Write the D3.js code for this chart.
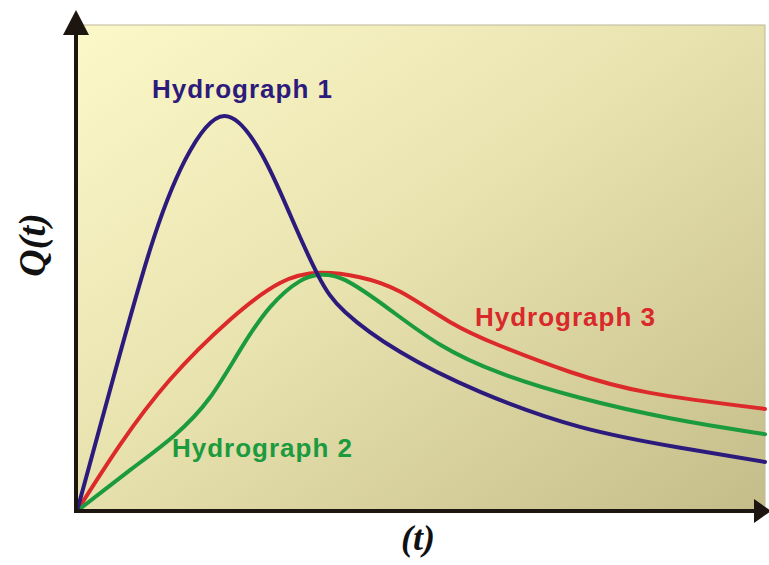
<!DOCTYPE html>
<html>
<head>
<meta charset="utf-8">
<script src="https://cdn.jsdelivr.net/npm/d3@7"></script>
<style>
  body { margin: 0; background: #fff; }
</style>
</head>
<body>
<div id="chart"></div>
<script>
// curve values (t and Q in 0..100 units)
const blueT = [0, 4.8, 10.6, 15.7, 21.4, 26.9, 31.0, 35.0, 39.0, 47.0, 58.6, 73.1, 87.7, 100];
const blueQ = [0, 24.9, 53.7, 72.2, 81.3, 73.3, 60.9, 48.6, 40.9, 32.7, 24.5, 17.3, 13.0, 10.1];

const redT = [0, 6.25, 13.5, 22.2, 29.5, 35.3, 41.1, 47.0, 54.2, 61.5, 71.7, 83.3, 100];
const redQ = [0, 13.6, 27.0, 39.3, 46.9, 49.0, 48.1, 45.1, 38.9, 34.0, 28.6, 24.3, 21.0];

const greenT = [0, 7.7, 14.2, 19.3, 23.7, 28.1, 32.4, 35.3, 39.0, 45.5, 52.8, 61.5, 73.1, 86.2, 100];
const greenQ = [0, 8.4, 15.6, 23.3, 33.1, 42.0, 47.3, 48.6, 47.5, 41.4, 34.2, 28.4, 23.3, 19.1, 15.8];

const seriesNames = ["Hydrograph 1", "Hydrograph 2", "Hydrograph 3"];

const width = 769;
const height = 565;

const x = d3.scaleLinear().domain([0, 100]).range([77, 765]);
const y = d3.scaleLinear().domain([0, 100]).range([511, 25]);

const svg = d3.select("#chart")
  .append("svg")
  .attr("width", width)
  .attr("height", height);

const defs = svg.append("defs");
const grad = defs.append("linearGradient")
  .attr("id", "bg")
  .attr("x1", "0%").attr("y1", "0%")
  .attr("x2", "100%").attr("y2", "100%");
grad.append("stop").attr("offset", "0%").attr("stop-color", "#fcf8c8");
grad.append("stop").attr("offset", "45%").attr("stop-color", "#e9e3b0");
grad.append("stop").attr("offset", "100%").attr("stop-color", "#c4bd8a");

// plot background
svg.append("rect")
  .attr("x", x(0))
  .attr("y", y(100))
  .attr("width", x(100) - x(0))
  .attr("height", y(0) - y(100))
  .attr("fill", "url(#bg)")
  .attr("stroke", "#bdb89a")
  .attr("stroke-width", 1);

const line = d3.line()
  .x(d => x(d[0]))
  .y(d => y(d[1]))
  .curve(d3.curveNatural);

const series = [
  { t: redT, q: redQ, color: "#dc2a2a" },
  { t: greenT, q: greenQ, color: "#1b9a3e" },
  { t: blueT, q: blueQ, color: "#2c1b7c" }
];

series.forEach(s => {
  svg.append("path")
    .datum(d3.zip(s.t, s.q))
    .attr("d", line)
    .attr("fill", "none")
    .attr("stroke", s.color)
    .attr("stroke-width", 4)
    .attr("stroke-linecap", "round");
});

// axes with arrowheads
const axisColor = "#1c1510";
svg.append("line")
  .attr("x1", 76).attr("y1", 513)
  .attr("x2", 76).attr("y2", 30)
  .attr("stroke", axisColor).attr("stroke-width", 4);
svg.append("path")
  .attr("d", "M76,10 L63,35 L89,35 Z")
  .attr("fill", axisColor);

svg.append("line")
  .attr("x1", 74).attr("y1", 511)
  .attr("x2", 758).attr("y2", 511)
  .attr("stroke", axisColor).attr("stroke-width", 4);
svg.append("path")
  .attr("d", "M771,511 L754,499 L754,523 Z")
  .attr("fill", axisColor);

// curve labels
const labels = [
  { text: seriesNames[0], x: 152, y: 98, color: "#2c1b7c" },
  { text: seriesNames[1], x: 172, y: 457, color: "#1b9a3e" },
  { text: seriesNames[2], x: 475, y: 326, color: "#d8292b" }
];
labels.forEach(l => {
  svg.append("text")
    .attr("x", l.x)
    .attr("y", l.y)
    .attr("fill", l.color)
    .attr("font-family", "Liberation Sans, Arial, sans-serif")
    .attr("font-weight", "bold")
    .attr("font-size", 26)
    .attr("textLength", 180)
    .attr("lengthAdjust", "spacing")
    .text(l.text);
});

// axis titles
svg.append("text")
  .attr("transform", "translate(45,245) rotate(-90)")
  .attr("text-anchor", "middle")
  .attr("font-family", "Liberation Serif, Times New Roman, serif")
  .attr("font-style", "italic")
  .attr("font-weight", "bold")
  .attr("font-size", 38)
  .attr("fill", "#111")
  .text("Q(t)");

svg.append("text")
  .attr("x", 418)
  .attr("y", 550)
  .attr("text-anchor", "middle")
  .attr("font-family", "Liberation Serif, Times New Roman, serif")
  .attr("font-style", "italic")
  .attr("font-weight", "bold")
  .attr("font-size", 36)
  .attr("fill", "#111")
  .text("(t)");
</script>
</body>
</html>
